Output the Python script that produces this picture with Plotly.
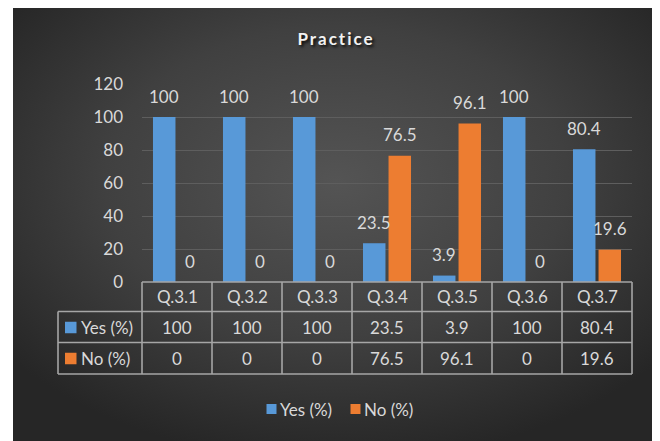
import base64
import plotly.graph_objects as go

# ---------------- data ----------------
categories = ["Q.3.1", "Q.3.2", "Q.3.3", "Q.3.4", "Q.3.5", "Q.3.6", "Q.3.7"]
yes_values = [100, 100, 100, 23.5, 3.9, 100, 80.4]
no_values = [0, 0, 0, 76.5, 96.1, 0, 19.6]
series_names = ["Yes (%)", "No (%)"]
title_text = "Practice"
y_ticks = [0, 20, 40, 60, 80, 100, 120]

# ---------------- layout constants ----------------
OFF = 8                      # page body margin
W, H = 660 - OFF, 441 - OFF
PLOT_L, PLOT_R, PLOT_T, PLOT_B = 142, 632, 84, 282   # in screen pixels
L = PLOT_L - OFF
R = W - (PLOT_R - OFF)
T = PLOT_T - OFF
B = H - (PLOT_B - OFF)
PW = W - L - R
PH = H - T - B
FONT = "Lato, 'Open Sans', sans-serif"
FS = 17
TXT = "#d9d9d9"
LINE = "#a6a6a6"
colors = ["#5899d8", "#ed7d31"]
series = [yes_values, no_values]


def px(xs):
    return (xs - PLOT_L) / PW


def py(ys):
    return (PLOT_B - ys) / PH


# radial gradient background as SVG image
svg = (
    '<svg xmlns="http://www.w3.org/2000/svg" width="647" height="434" '
    'viewBox="0 0 647 434" preserveAspectRatio="none">'
    '<defs><radialGradient id="g" cx="50%" cy="40%" r="65%">'
    '<stop offset="0" stop-color="#545454"/>'
    '<stop offset="0.55" stop-color="#404040"/>'
    '<stop offset="1" stop-color="#262626"/>'
    '</radialGradient></defs>'
    '<rect x="0" y="0" width="647" height="434" fill="url(#g)"/></svg>'
)
bg_uri = "data:image/svg+xml;base64," + base64.b64encode(svg.encode()).decode()

fig = go.Figure()
for name, vals, col in zip(series_names, series, colors):
    fig.add_trace(go.Bar(
        x=categories, y=vals, name=name,
        marker=dict(color=col, line=dict(width=0)),
        showlegend=False, hoverinfo="x+y+name",
    ))

annotations = []
# data labels above bars
offsets = [-13, 13]
for vals, off in zip(series, offsets):
    for c, v in zip(categories, vals):
        annotations.append(dict(
            x=c, y=v, xref="x", yref="y", text=f"{v:g}", showarrow=False,
            xshift=off, yshift=21, font=dict(family=FONT, size=FS, color=TXT),
            xanchor="center", yanchor="middle",
        ))

# data table: header row + value rows
row_centers = [296.5, 327.5, 358.5]
for c in categories:
    annotations.append(dict(
        x=c, y=py(row_centers[0]), xref="x", yref="paper", text=c, showarrow=False,
        font=dict(family=FONT, size=FS, color=TXT), xanchor="center", yanchor="middle",
    ))
for i, vals in enumerate(series):
    for c, v in zip(categories, vals):
        annotations.append(dict(
            x=c, y=py(row_centers[i + 1]), xref="x", yref="paper", text=f"{v:g}",
            showarrow=False, font=dict(family=FONT, size=FS, color=TXT),
            xanchor="center", yanchor="middle",
        ))

shapes = []
# table keys + names
for i, (name, col) in enumerate(zip(series_names, colors)):
    yc = row_centers[i + 1]
    shapes.append(dict(type="rect", xref="paper", yref="paper",
                       x0=px(65), x1=px(76.5), y0=py(yc - 5.75), y1=py(yc + 5.75),
                       fillcolor=col, line=dict(width=0)))
    annotations.append(dict(
        x=px(79), y=py(yc), xref="paper", yref="paper", text=name,
        showarrow=False, font=dict(family=FONT, size=FS, color=TXT),
        xanchor="left", yanchor="middle",
    ))

# table grid lines
lw = 1.6
shapes.append(dict(type="line", xref="paper", yref="paper", x0=0, x1=1,
                   y0=py(282), y1=py(282), line=dict(color=LINE, width=lw)))
for yl in [311.5, 342.5, 374]:
    shapes.append(dict(type="line", xref="paper", yref="paper", x0=px(58), x1=1,
                       y0=py(yl), y1=py(yl), line=dict(color=LINE, width=lw)))
ncat = len(categories)
for k in range(ncat + 1):
    xk = k / ncat
    shapes.append(dict(type="line", xref="paper", yref="paper", x0=xk, x1=xk,
                       y0=py(282), y1=py(374), line=dict(color=LINE, width=lw)))
shapes.append(dict(type="line", xref="paper", yref="paper", x0=px(58), x1=px(58),
                   y0=py(311.5), y1=py(374), line=dict(color=LINE, width=lw)))

# bottom legend
leg_sq = [266.5, 350.5]
for name, col, x0 in zip(series_names, colors, leg_sq):
    shapes.append(dict(type="rect", xref="paper", yref="paper",
                       x0=px(x0), x1=px(x0 + 10), y0=py(414), y1=py(404),
                       fillcolor=col, line=dict(width=0)))
    annotations.append(dict(
        x=px(x0 + 11.5), y=py(409), xref="paper", yref="paper", text=name,
        showarrow=False, font=dict(family=FONT, size=FS, color=TXT),
        xanchor="left", yanchor="middle",
    ))

fig.update_layout(
    width=W, height=H,
    margin=dict(l=L, r=R, t=T, b=B, pad=0),
    paper_bgcolor="white",
    plot_bgcolor="rgba(0,0,0,0)",
    barmode="group", bargap=0.27, bargroupgap=0.12,
    title=dict(
        text=f'<span style="letter-spacing:2px">{title_text}</span>',
        xref="container", yref="container", x=(336 - OFF) / W, y=1 - (39.5 - OFF) / H,
        xanchor="center", yanchor="middle",
        font=dict(family=FONT, size=17, color="#f2f2f2", weight="bold",
                  shadow="2px 2px 3px rgba(0,0,0,0.85)"),
    ),
    xaxis=dict(range=[-0.5, ncat - 0.5], showticklabels=False, showgrid=False,
               zeroline=False, showline=False, ticks=""),
    yaxis=dict(range=[0, 120], tickvals=y_ticks, showgrid=True, gridcolor="#5e5e5e",
               gridwidth=1, zeroline=False, showline=False, ticks="",
               ticklabelstandoff=18,
               tickfont=dict(family=FONT, size=FS, color=TXT)),
    images=[dict(source=bg_uri, xref="paper", yref="paper",
                 x=px(13), y=py(OFF), sizex=(660 - 13) / PW, sizey=(441 - OFF) / PH,
                 xanchor="left", yanchor="top", sizing="stretch", layer="below")],
    shapes=shapes,
    annotations=annotations,
)

fig.write_html("out.html")
